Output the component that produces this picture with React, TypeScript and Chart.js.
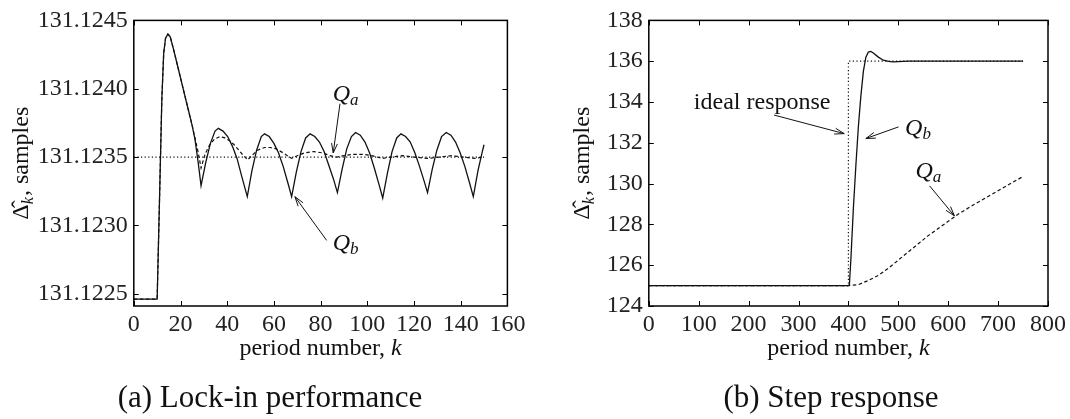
import React, { useEffect, useRef } from 'react';
import { Chart, registerables } from 'chart.js';

Chart.register(...registerables);

const FONT = '"Liberation Serif", "Times New Roman", serif';

// ---------- (a) Lock-in performance ----------
const lockTicksX = [0, 20, 40, 60, 80, 100, 120, 140, 160];
const lockTicksY = [131.1225, 131.123, 131.1235, 131.124, 131.1245];

const lockQbK = [0, 10, 11, 12, 12.8, 13.6, 14.6, 15.6, 17, 19, 21, 23, 25, 26.2, 27.5, 28.8,
  30.8, 32.8, 34.8, 36.2, 38.2, 40.2, 42.2, 44.2, 46.2, 48.6,
  50.6, 52.6, 54.6, 56, 58, 60, 62, 64, 66, 67.6,
  69.6, 71.6, 73.6, 75.5, 77.5, 79.5, 81.5, 83.5, 85.5, 87.2,
  89.2, 91.2, 93.2, 95, 97, 99, 101, 103, 105, 106.6,
  108.6, 110.6, 112.6, 114.4, 116.4, 118.4, 120.4, 122.4, 124.4, 125.8,
  127.8, 129.8, 131.8, 133.8, 135.8, 137.8, 139.8, 141.8, 143.8, 145.4,
  147.4, 149.4, 150];
const lockQbV = [131.12246, 131.12246, 131.12318, 131.12392, 131.12426, 131.12437, 131.1244, 131.12438, 131.12429, 131.12415, 131.12401, 131.12387, 131.12373, 131.12363, 131.12347, 131.12329,
  131.12346, 131.1236, 131.12369, 131.12371, 131.12369, 131.12365, 131.12358, 131.12349, 131.12336, 131.12321,
  131.1234, 131.12355, 131.12365, 131.12367, 131.12365, 131.1236, 131.12353, 131.12343, 131.12331, 131.12321,
  131.12339, 131.12354, 131.12364, 131.12367, 131.12365, 131.12361, 131.12354, 131.12344, 131.12334, 131.12324,
  131.12341, 131.12356, 131.12365, 131.12368, 131.12366, 131.12361, 131.12353, 131.12342, 131.1233, 131.1232,
  131.12338, 131.12354, 131.12364, 131.12367, 131.12365, 131.12361, 131.12353, 131.12343, 131.12332, 131.12324,
  131.12341, 131.12355, 131.12365, 131.12368, 131.12366, 131.12361, 131.12353, 131.12343, 131.12331, 131.12321,
  131.1234, 131.12355, 131.12359];

const lockQaK = [0, 10, 11, 12, 12.8, 13.6, 14.6, 15.6, 17, 19, 21, 23, 25, 26.2, 27.5, 28.8, 30.5, 32.5, 34.5, 36.8,
  39, 41, 43, 45, 47, 48.8, 50.5, 53, 56, 58.5, 61, 64, 67.6, 70, 73, 77, 81, 84, 87, 90,
  94, 98, 102, 106.5, 110, 115, 120, 126, 131, 136, 141, 146, 150];
const lockQaV = [131.12246, 131.12246, 131.12318, 131.12392, 131.12426, 131.12437, 131.1244, 131.12438, 131.12429, 131.12415,
  131.12401, 131.12387, 131.12373, 131.12364, 131.12354, 131.12342, 131.12352, 131.12359, 131.12363, 131.12365,
  131.12364, 131.12362, 131.12359, 131.12355, 131.12351, 131.12348, 131.12351, 131.12355, 131.12357, 131.12357,
  131.12356, 131.12353, 131.12349, 131.12351, 131.12353, 131.12354, 131.12353, 131.12351, 131.1235, 131.12351,
  131.12352, 131.12352, 131.12351, 131.12349, 131.1235, 131.12351, 131.1235, 131.12349, 131.1235, 131.12351,
  131.1235, 131.12349, 131.1235];

const lockIdealK = [0, 150];
const lockIdealV = [131.1235, 131.1235];

const lockQLabels = [
  { sub: 'a', x: 90.7, y: 131.12396 },
  { sub: 'b', x: 90.7, y: 131.12287 },
];
const lockTextLabels: { text: string; x: number; y: number }[] = [];
const lockArrows = [
  { x1: 88.3, y1: 131.12389, x2: 85.4, y2: 131.12353 },
  { x1: 82.6, y1: 131.12289, x2: 69.0, y2: 131.12321 },
];

// ---------- (b) Step response ----------
const stepTicksX = [0, 100, 200, 300, 400, 500, 600, 700, 800];
const stepTicksY = [124, 126, 128, 130, 132, 134, 136, 138];

const stepQbK = [0, 400, 402, 405, 410, 415, 420, 425, 430, 435, 440, 445, 450, 460, 470, 480, 490, 500, 520, 750];
const stepQbV = [125, 125, 125.05, 126.3, 128.8, 130.9, 132.8, 134.3, 135.5, 136.2, 136.45, 136.48, 136.4, 136.2, 136.05, 135.99, 135.97, 135.98, 136, 136];

const stepQaK = [0, 400, 420, 440, 460, 480, 500, 520, 540, 560, 580, 600, 620, 650, 700, 750];
const stepQaV = [125, 125, 125.05, 125.25, 125.5, 125.85, 126.25, 126.65, 127.05, 127.45, 127.8, 128.15, 128.5, 128.95, 129.65, 130.35];

const stepIdealK = [0, 400, 400, 750];
const stepIdealV = [125, 125, 136, 136];

const stepQLabels = [
  { sub: 'b', x: 539.4, y: 132.75 },
  { sub: 'a', x: 560.3, y: 130.6 },
];
const stepTextLabels = [{ text: 'ideal response', x: 227.2, y: 133.95 }];
const stepArrows = [
  { x1: 251, y1: 133.36, x2: 391.6, y2: 132.45 },
  { x1: 500.5, y1: 132.78, x2: 435, y2: 132.21 },
  { x1: 562.7, y1: 129.89, x2: 612.4, y2: 128.42 },
];

// ---------- helpers ----------
const mkData = (ks: number[], vs: number[]) => ks.map((k, i) => ({ x: k, y: vs[i] }));

function lineDs(label: string, ks: number[], vs: number[], dash: number[], width: number) {
  return {
    label,
    data: mkData(ks, vs),
    borderColor: '#111',
    borderWidth: width,
    borderDash: dash,
    pointRadius: 0,
    fill: false,
    tension: 0,
  };
}

type Deco = {
  yTitleX: number;
  xTitleY: number;
  subtitle: string;
  subX: number;
  subY: number;
  qLabels: { sub: string; x: number; y: number }[];
  textLabels: { text: string; x: number; y: number }[];
  arrows: { x1: number; y1: number; x2: number; y2: number }[];
};

function makeDeco(cfg: Deco) {
  return {
    id: 'deco',
    afterDraw(chart: any) {
      const ctx: CanvasRenderingContext2D = chart.ctx;
      const { left, right, top, bottom } = chart.chartArea;
      const xs = chart.scales.x;
      const ys = chart.scales.y;
      const TL = 5;
      ctx.save();
      ctx.strokeStyle = '#000';
      ctx.lineWidth = 1;
      ctx.beginPath();
      for (const t of xs.ticks) {
        const px = Math.round(xs.getPixelForValue(t.value)) + 0.5;
        ctx.moveTo(px, bottom);
        ctx.lineTo(px, bottom - TL);
        ctx.moveTo(px, top);
        ctx.lineTo(px, top + TL);
      }
      for (const t of ys.ticks) {
        const py = Math.round(ys.getPixelForValue(t.value)) + 0.5;
        ctx.moveTo(left, py);
        ctx.lineTo(left + TL, py);
        ctx.moveTo(right, py);
        ctx.lineTo(right - TL, py);
      }
      ctx.stroke();
      ctx.lineWidth = 1.5;
      ctx.strokeRect(left, top, right - left, bottom - top);

      ctx.fillStyle = '#111';
      // x title
      const cx = (left + right) / 2;
      ctx.textBaseline = 'alphabetic';
      ctx.font = `24px ${FONT}`;
      const p1 = 'period number, ';
      const w1 = ctx.measureText(p1).width;
      ctx.font = `italic 24px ${FONT}`;
      const w2 = ctx.measureText('k').width;
      const x0 = cx - (w1 + w2) / 2;
      ctx.font = `24px ${FONT}`;
      ctx.textAlign = 'left';
      ctx.fillText(p1, x0, cfg.xTitleY);
      ctx.font = `italic 24px ${FONT}`;
      ctx.fillText('k', x0 + w1, cfg.xTitleY);

      // y title (rotated)
      ctx.save();
      ctx.translate(cfg.yTitleX, (top + bottom) / 2);
      ctx.rotate(-Math.PI / 2);
      ctx.font = `24px ${FONT}`;
      const d = '\u0394\u0302';
      const wd = ctx.measureText(d).width;
      ctx.font = `italic 16px ${FONT}`;
      const wk = ctx.measureText('k').width;
      ctx.font = `24px ${FONT}`;
      const rest = ', samples';
      const wr = ctx.measureText(rest).width;
      const tx = -(wd + wk + 1 + wr) / 2;
      ctx.fillText(d, tx, 0);
      ctx.font = `italic 16px ${FONT}`;
      ctx.fillText('k', tx + wd, 5);
      ctx.font = `24px ${FONT}`;
      ctx.fillText(rest, tx + wd + wk + 1, 0);
      ctx.restore();

      // subtitle
      ctx.font = `31px ${FONT}`;
      ctx.textAlign = 'center';
      ctx.fillText(cfg.subtitle, cfg.subX, cfg.subY);

      // Q labels
      for (const q of cfg.qLabels) {
        const px = xs.getPixelForValue(q.x);
        const py = ys.getPixelForValue(q.y);
        ctx.textAlign = 'left';
        ctx.font = `italic 24px ${FONT}`;
        const wq = ctx.measureText('Q').width;
        ctx.font = `italic 17px ${FONT}`;
        const ws = ctx.measureText(q.sub).width;
        const sx = px - (wq + ws) / 2;
        ctx.font = `italic 24px ${FONT}`;
        ctx.fillText('Q', sx, py + 7);
        ctx.font = `italic 17px ${FONT}`;
        ctx.fillText(q.sub, sx + wq, py + 11);
      }
      for (const t of cfg.textLabels) {
        const px = xs.getPixelForValue(t.x);
        const py = ys.getPixelForValue(t.y);
        ctx.textAlign = 'center';
        ctx.font = `24px ${FONT}`;
        ctx.fillText(t.text, px, py + 6);
      }
      // arrows
      ctx.lineWidth = 1;
      ctx.strokeStyle = '#111';
      for (const a of cfg.arrows) {
        const ax = xs.getPixelForValue(a.x1);
        const ay = ys.getPixelForValue(a.y1);
        const bx = xs.getPixelForValue(a.x2);
        const by = ys.getPixelForValue(a.y2);
        const ang = Math.atan2(by - ay, bx - ax);
        const L = 10;
        const th = 0.3;
        ctx.beginPath();
        ctx.moveTo(ax, ay);
        ctx.lineTo(bx, by);
        ctx.moveTo(bx - L * Math.cos(ang - th), by - L * Math.sin(ang - th));
        ctx.lineTo(bx, by);
        ctx.lineTo(bx - L * Math.cos(ang + th), by - L * Math.sin(ang + th));
        ctx.stroke();
      }
      ctx.restore();
    },
  };
}

type Spec = {
  datasets: any[];
  xMin: number; xMax: number; xTicks: number[];
  yMin: number; yMax: number; yTicks: number[]; yDec: number;
  yWidth: number; xHeight: number; padRight: number; padTop: number;
  deco: Deco;
};

function buildChart(canvas: HTMLCanvasElement, s: Spec) {
  const tickFont = { family: FONT, size: 24 };
  return new Chart(canvas, {
    type: 'line',
    data: { datasets: s.datasets },
    options: {
      animation: false,
      responsive: false,
      events: [],
      layout: { padding: { left: 0, right: s.padRight, top: s.padTop, bottom: 0 } },
      plugins: { legend: { display: false }, tooltip: { enabled: false } },
      scales: {
        x: {
          type: 'linear',
          min: s.xMin,
          max: s.xMax,
          afterBuildTicks: (sc: any) => { sc.ticks = s.xTicks.map((v) => ({ value: v })); },
          afterFit: (sc: any) => { sc.height = s.xHeight; },
          grid: { display: false, drawTicks: false },
          border: { display: false },
          ticks: { padding: 4, color: '#222', font: tickFont, maxRotation: 0, autoSkip: false, callback: (v: any) => String(v) },
        },
        y: {
          type: 'linear',
          min: s.yMin,
          max: s.yMax,
          afterBuildTicks: (sc: any) => { sc.ticks = s.yTicks.map((v) => ({ value: v })); },
          afterFit: (sc: any) => { sc.width = s.yWidth; },
          grid: { display: false, drawTicks: false },
          border: { display: false },
          ticks: { padding: 6, color: '#222', font: tickFont, autoSkip: false, callback: (v: any) => Number(v).toFixed(s.yDec) },
        },
      },
    } as any,
    plugins: [makeDeco(s.deco) as any],
  });
}

export default function App() {
  const leftRef = useRef<HTMLCanvasElement>(null);
  const rightRef = useRef<HTMLCanvasElement>(null);

  useEffect(() => {
    const a = buildChart(leftRef.current!, {
      datasets: [
        lineDs('ideal', lockIdealK, lockIdealV, [1.2, 2.4], 1.2),
        lineDs('Qa', lockQaK, lockQaV, [3.5, 2.5], 1.2),
        lineDs('Qb', lockQbK, lockQbV, [], 1.3),
      ],
      xMin: 0, xMax: 160, xTicks: lockTicksX,
      yMin: 131.12241, yMax: 131.1245, yTicks: lockTicksY, yDec: 4,
      yWidth: 133.8, xHeight: 113, padRight: 535 - 507.4, padTop: 14,
      deco: {
        yTitleX: 28, xTitleY: 355,
        subtitle: '(a) Lock-in performance', subX: 270, subY: 407,
        qLabels: lockQLabels, textLabels: lockTextLabels, arrows: lockArrows,
      },
    });
    const b = buildChart(rightRef.current!, {
      datasets: [
        lineDs('ideal', stepIdealK, stepIdealV, [1.2, 2.4], 1.2),
        lineDs('Qa', stepQaK, stepQaV, [3.5, 2.5], 1.2),
        lineDs('Qb', stepQbK, stepQbV, [], 1.3),
      ],
      xMin: 0, xMax: 800, xTicks: stepTicksX,
      yMin: 124, yMax: 138, yTicks: stepTicksY, yDec: 0,
      yWidth: 648.8 - 535, xHeight: 113, padRight: 1070 - 1051, padTop: 14.3,
      deco: {
        yTitleX: 589 - 535, xTitleY: 355,
        subtitle: '(b) Step response', subX: 831 - 535, subY: 407,
        qLabels: stepQLabels, textLabels: stepTextLabels, arrows: stepArrows,
      },
    });
    return () => { a.destroy(); b.destroy(); };
  }, []);

  return (
    <div style={{ position: 'absolute', left: 0, top: 0, width: 1070, height: 419, background: '#fff' }}>
      <canvas ref={leftRef} width={535} height={419} style={{ position: 'absolute', left: 0, top: 0, width: 535, height: 419 }} />
      <canvas ref={rightRef} width={535} height={419} style={{ position: 'absolute', left: 535, top: 0, width: 535, height: 419 }} />
    </div>
  );
}
